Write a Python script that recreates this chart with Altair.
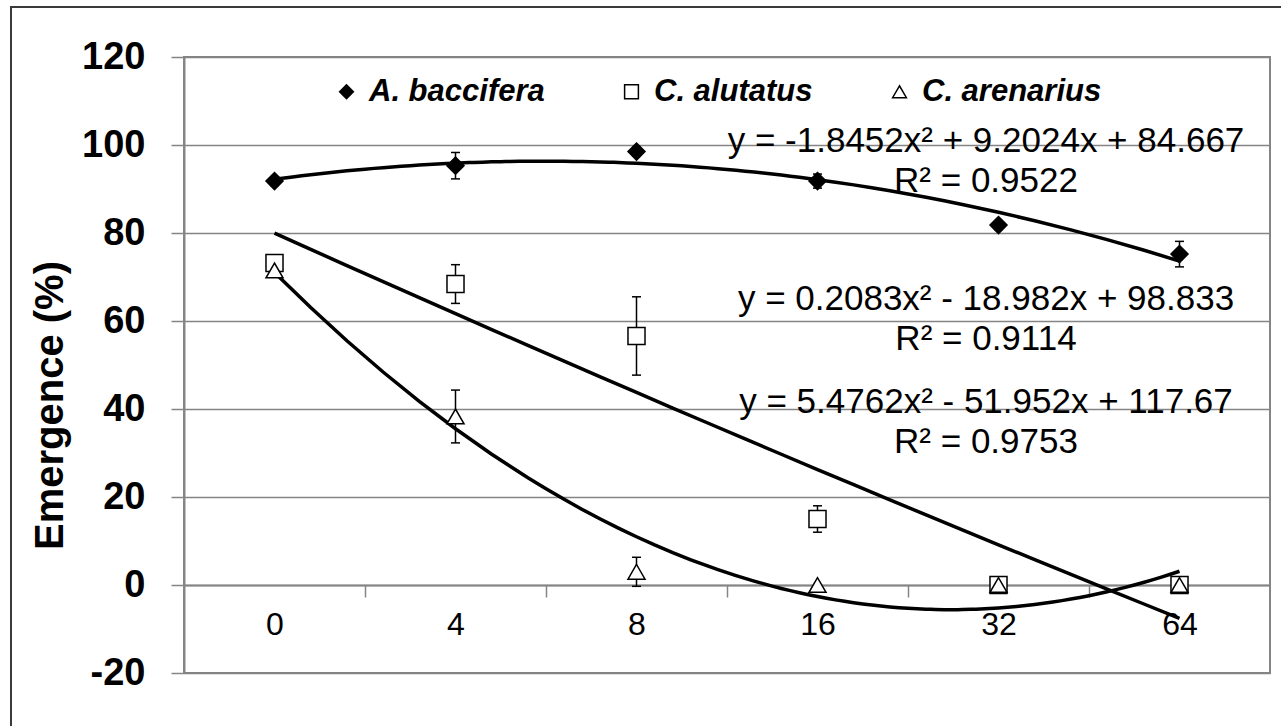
import altair as alt
import pandas as pd

# ---------------- data ----------------
doses = ["0", "4", "8", "16", "32", "64"]
species = ["A. baccifera", "C. alutatus", "C. arenarius"]
baccifera = [91.8, 95.3, 98.5, 91.8, 81.8, 75.2]
baccifera_err = [1.0, 3.0, 1.0, 1.6, 1.0, 2.9]
alutatus = [73.2, 68.4, 56.6, 15.0, 0.0, 0.0]
alutatus_err = [0.0, 4.4, 8.9, 3.0, 0.0, 0.0]
arenarius = [71.5, 38.3, 3.0, 0.0, 0.0, 0.0]
arenarius_err = [0.0, 6.0, 3.3, 0.0, 0.0, 0.0]
eq_labels = [
    "y = -1.8452x² + 9.2024x + 84.667",
    "y = 0.2083x² - 18.982x + 98.833",
    "y = 5.4762x² - 51.952x + 117.67",
]
r2_labels = ["R² = 0.9522", "R² = 0.9114", "R² = 0.9753"]
y_ticks = [-20, 0, 20, 40, 60, 80, 100, 120]

rows = []
for sp, vals, errs in zip(species, [baccifera, alutatus, arenarius],
                          [baccifera_err, alutatus_err, arenarius_err]):
    for i, (v, e) in enumerate(zip(vals, errs)):
        rows.append({"species": sp, "idx": i + 1, "value": v,
                     "lo": v - e, "hi": v + e, "err": e})
df = pd.DataFrame(rows)

# ---------------- layout / style ----------------
W, H = 1086, 616
FONT = "Liberation Sans"
GRID = "#858585"
y_min, y_max = y_ticks[0], y_ticks[-1]
x_axis_offset = -H * (0 - y_min) / (y_max - y_min)

n = len(doses)
x_values = [k / 2 for k in range(2, 2 * n + 1)]
labels_js = "[" + ",".join(f"'{d}'" for d in doses) + "]"

x_scale = alt.Scale(domain=[0.5, n + 0.5], nice=False, zero=False)
x_axis = alt.Axis(
    values=x_values,
    labelExpr=f"datum.value % 1 === 0 ? {labels_js}[datum.value - 1] : ''",
    title=None, grid=False, offset=x_axis_offset,
    domainColor=GRID, domainWidth=2,
    tickColor=GRID, tickWidth=1.5, tickSize=12,
    tickOpacity={"condition": {"test": "datum.value % 1 === 0", "value": 0}, "value": 1},
    labelFont=FONT, labelFontSize=32, labelColor="black",
    labelBaseline="top", labelPadding=12,
    labelFlush=False, labelOverlap=False,
)
y_scale = alt.Scale(domain=[y_min, y_max], nice=False, zero=False)
y_axis = alt.Axis(
    values=y_ticks, title="Emergence (%)", grid=True,
    labelExpr="'' + datum.value",
    gridColor=GRID, gridWidth=1.5,
    domainColor=GRID, domainWidth=2,
    tickColor=GRID, tickWidth=1.5, tickSize=13,
    labelFont=FONT, labelFontSize=38, labelFontWeight="bold", labelColor="black",
    labelPadding=26, labelOverlap=False, labelFlush=False,
    titleFont=FONT, titleFontSize=40, titleFontWeight="bold", titleColor="black",
    titleAngle=270, titleAlign="center", titleBaseline="alphabetic",
    titleX=-122, titleY=348,
)

x_enc = alt.X("idx:Q", scale=x_scale, axis=x_axis)


def y_enc(field):
    return alt.Y(f"{field}:Q", scale=y_scale, axis=y_axis)


legend = alt.Legend(
    title=None, orient="none", legendX=147, legendY=19, direction="horizontal",
    labelFont=FONT, labelFontSize=31, labelFontStyle="italic", labelFontWeight="bold",
    labelColor="black", labelLimit=1000, symbolSize=190, symbolStrokeColor="black",
    symbolStrokeWidth=1.5, symbolOpacity=1, columnPadding=71, labelOffset=7, padding=0,
)

# ---------------- layers ----------------
frame = alt.Chart(pd.DataFrame({"k": [0]})).mark_rect(
    fillOpacity=0, stroke="#3a3a3a", strokeWidth=2
).encode(x=alt.value(-173), x2=alt.value(1150), y=alt.value(-50), y2=alt.value(720))

err_rules = alt.Chart(df).transform_filter("datum.err > 0").mark_rule(
    color="black", strokeWidth=1.5
).encode(x=x_enc, y=y_enc("lo"), y2="hi:Q")

err_caps = alt.Chart(df).transform_filter("datum.err > 0").transform_fold(
    ["lo", "hi"], as_=["end", "endv"]
).mark_tick(orient="horizontal", size=9, thickness=1.5, color="black", opacity=1).encode(
    x=x_enc, y=y_enc("endv")
)

trend = alt.Chart(df).transform_regression(
    "idx", "value", groupby=["species"], method="poly", order=2, extent=[1, n]
).mark_line(color="black", strokeWidth=3.5).encode(
    x=x_enc, y=y_enc("value"), detail="species:N"
)

points = alt.Chart(df).mark_point(size=290, strokeWidth=1.5, opacity=1).encode(
    x=x_enc, y=y_enc("value"),
    shape=alt.Shape("species:N", scale=alt.Scale(domain=species,
                    range=["diamond", "square", "triangle-up"]), legend=legend),
    fill=alt.Fill("species:N", scale=alt.Scale(domain=species,
                  range=["black", "white", "white"]), legend=legend),
    stroke=alt.Stroke("species:N", scale=alt.Scale(domain=species,
                      range=["black", "black", "black"]), legend=legend),
)

eq_x = 802
eq_y = [94.7, 253, 356.3]
r2_y = [134.7, 293, 396.3]
texts = []
for lab, yy in list(zip(eq_labels, eq_y)) + list(zip(r2_labels, r2_y)):
    texts.append(
        alt.Chart(pd.DataFrame({"t": [lab]})).mark_text(
            font=FONT, fontSize=35, align="center", baseline="alphabetic", color="black"
        ).encode(text="t:N", x=alt.value(eq_x), y=alt.value(yy))
    )

chart = alt.layer(frame, err_rules, err_caps, trend, points, *texts).properties(
    width=W, height=H,
    padding={"left": 184, "top": 57, "right": 11, "bottom": 53},
    autosize=alt.AutoSizeParams(type="none"),
    background="white",
).configure_view(stroke=GRID, strokeWidth=2)

chart.save("out.html", embed_options={"renderer": "svg", "actions": False})
